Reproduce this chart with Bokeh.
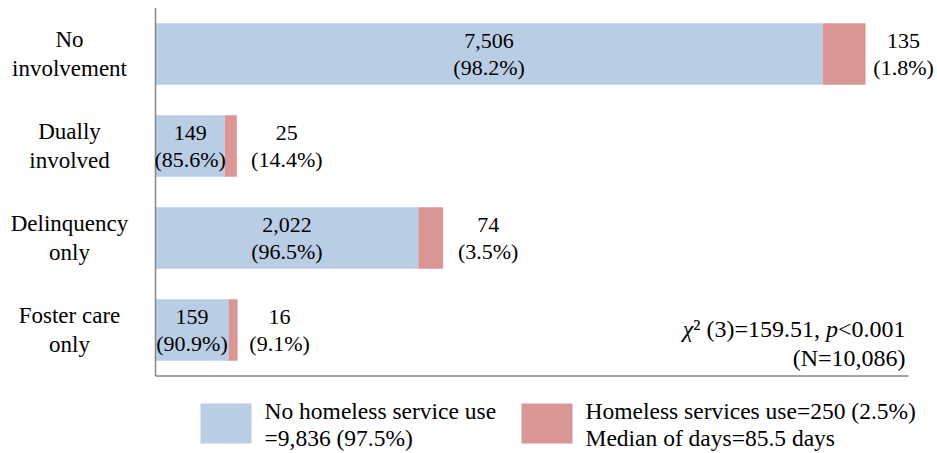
from bokeh.plotting import figure
from bokeh.models import Range1d, ColumnDataSource
from bokeh.embed import file_html
from bokeh.resources import INLINE
from bokeh.core.properties import value

# ---------------- data ----------------
categories = ["No involvement", "Dually involved", "Delinquency only", "Foster care only"]
category_labels = ["No\ninvolvement", "Dually\ninvolved", "Delinquency\nonly", "Foster care\nonly"]
no_service_n = [7506, 149, 2022, 159]
no_service_pct = [98.2, 85.6, 96.5, 90.9]
service_n = [135, 25, 74, 16]
service_pct = [1.8, 14.4, 3.5, 9.1]
# bar lengths as drawn in the reference, in % of its unlabeled horizontal axis
# (the original drawing is not proportional to the counts)
no_service_len = [88.6, 9.2, 34.9, 9.7]
service_len = [5.7, 1.6, 3.3, 1.2]
legend_labels = ["No homeless service use\n=9,836 (97.5%)",
                 "Homeless services use=250 (2.5%)\nMedian of days=85.5 days"]
stat_pieces = ["\u03c7", "\u00b2 (3)=159.51, ", "p", "<0.001"]
stat_n = "(N=10,086)"

# ---------------- layout / style ----------------
W, H = 936, 452
AX_LEFT = 155        # px of the vertical axis line
AX_RIGHT = 908       # px where the horizontal axis line ends
TOP = 7.5            # px of the top of the plotting area
ROW = 92             # px per category row
N = len(categories)
PX = 100 / (AX_RIGHT - AX_LEFT)   # data units per px (x)
BLUE = "#B9CDE5"
RED = "#D99694"
AXIS = "#868686"
FONT = "Liberation Serif"
red_label_offsets = [38, 50, 45, 42]


def ypx(py):
    """canvas px (from top) -> y data"""
    return (N * ROW + TOP - py) / ROW


def xpx(px):
    """canvas px (from left) -> x data"""
    return (px - AX_LEFT) * PX


rows_y = [N - i - 0.5 for i in range(N)]

src = ColumnDataSource(dict(
    y=rows_y,
    lab=category_labels,
    blue=no_service_len,
    end=[a + b for a, b in zip(no_service_len, service_len)],
    blue_mid=[a / 2 for a in no_service_len],
    blue_txt=[f"{n:,}\n({p:.1f}%)" for n, p in zip(no_service_n, no_service_pct)],
    red_txt=[f"{n:,}\n({p:.1f}%)" for n, p in zip(service_n, service_pct)],
    red_off=red_label_offsets,
))

p = figure(width=W, height=H,
           x_range=Range1d(xpx(0), xpx(W)),
           y_range=Range1d(ypx(H), ypx(0)),
           output_backend="svg", toolbar_location=None,
           x_axis_location=None, y_axis_location=None,
           min_border=0)
p.outline_line_color = None
p.grid.visible = False
p.background_fill_color = "white"
p.border_fill_color = "white"

# bars
p.hbar(y="y", left=0, right="blue", height=0.67, fill_color=BLUE,
       line_color=None, source=src)
p.hbar(y="y", left="blue", right="end", height=0.67, fill_color=RED,
       line_color=None, source=src)

# axis lines
p.segment(x0=[0, 0], y0=[0, 0], x1=[0, 100], y1=[N, 0],
          line_color=AXIS, line_width=1.5)

# category (tick) labels
p.text(x=xpx(69), y="y", text="lab", source=src,
       text_align="center", text_baseline="middle",
       text_font=value(FONT), text_font_size="23px", text_color="black",
       text_line_height=1.16)

# value labels
p.text(x="blue_mid", y="y", text="blue_txt", source=src,
       text_align="center", text_baseline="middle",
       text_font=value(FONT), text_font_size="22px", text_color="black",
       text_line_height=1.1)
p.text(x="end", y="y", text="red_txt", source=src, x_offset="red_off",
       text_align="center", text_baseline="middle",
       text_font=value(FONT), text_font_size="22px", text_color="black",
       text_line_height=1.1)

# statistic text
SFS = 24
char_w = {"<0.001": 2.814, "p": 0.5, "\u00b2 (3)=159.51, ": 5.53, "\u03c7": 0.55}
x_stat = xpx(905)
off = 0.0
for piece in reversed(stat_pieces):
    italic = piece in ("p", "\u03c7")
    p.text(x=[x_stat], y=[ypx(328)], text=[piece], x_offset=-off,
           text_align="right", text_baseline="middle",
           text_font=value(FONT), text_font_size=f"{SFS}px", text_color="black",
           text_font_style="italic" if italic else "normal")
    off += char_w[piece] * SFS
p.text(x=[x_stat], y=[ypx(357)], text=[stat_n],
       text_align="right", text_baseline="middle",
       text_font=value(FONT), text_font_size=f"{SFS}px", text_color="black")

# legend (swatches + labels)
sw_left_px = [200, 521]
p.quad(left=[xpx(x) for x in sw_left_px],
       right=[xpx(x + 51) for x in sw_left_px],
       top=[ypx(403)] * 2, bottom=[ypx(443)] * 2,
       fill_color=[BLUE, RED], line_color=None)
p.text(x=[xpx(x + 64) for x in sw_left_px], y=[ypx(424)] * 2,
       text=legend_labels, text_align="left", text_baseline="middle",
       text_font=value(FONT), text_font_size="23.5px", text_color="black",
       text_line_height=1.05)

open("out.html", "w").write(file_html(p, INLINE))
